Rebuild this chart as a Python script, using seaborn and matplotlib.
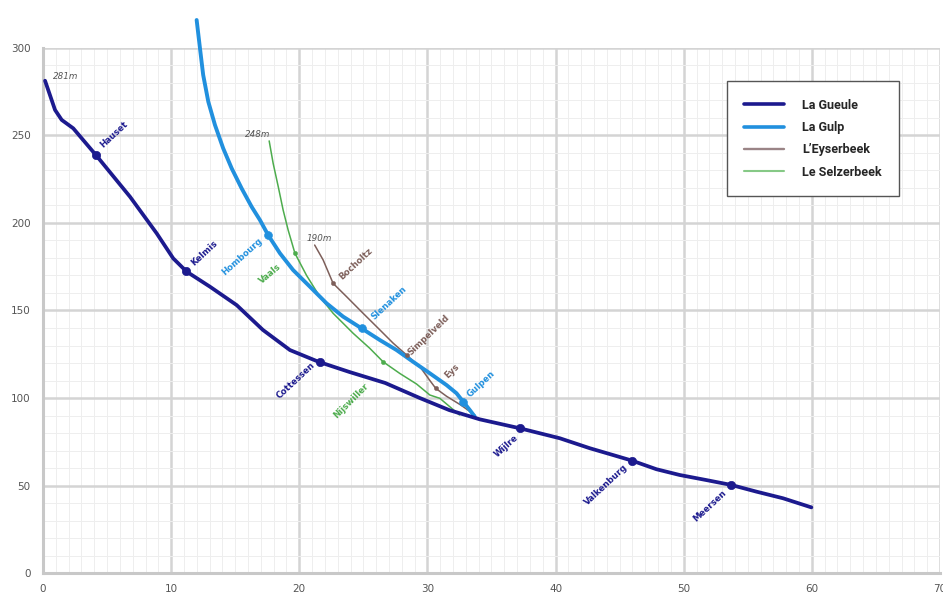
import matplotlib
matplotlib.use("Agg")
import matplotlib.pyplot as plt
from matplotlib.ticker import MultipleLocator
import seaborn as sns
import pandas as pd

# River profiles: distance (km) and altitude (m)
gueule_km = [0.16, 0.94, 1.46, 2.36, 4.19, 6.79, 8.87, 10.16, 11.21, 13.03, 15.11, 17.16,
             19.27, 21.5, 23.9, 26.7, 29.4, 31.7, 34.09, 37.21, 40.33, 42.67, 44.49, 45.97,
             47.87, 49.69, 51.77, 53.72, 55.67, 57.75, 59.96]
gueule_alt = [281.3, 264.6, 258.9, 254.1, 238.3, 215.0, 194.1, 179.8, 172.2, 163.6, 153.1,
              138.9, 127.4, 120.7, 114.9, 108.6, 100.0, 93.1, 87.8, 82.7, 77.0, 71.3, 67.4,
              64.2, 59.3, 56.0, 53.1, 50.3, 46.5, 42.7, 37.5]

gulp_km = [11.99, 12.25, 12.5, 12.9, 13.42, 14.06, 14.72, 15.5, 16.28, 16.93, 17.57, 18.49,
           19.52, 20.83, 22.13, 23.42, 24.86, 26.29, 27.59, 28.88, 30.19, 31.49, 32.27,
           32.79, 33.31, 33.7]
gulp_alt = [316.0, 299.8, 284.6, 269.3, 256.0, 242.7, 231.3, 219.8, 209.3, 201.7, 193.1,
            182.7, 173.1, 163.6, 154.1, 146.5, 139.8, 133.1, 127.4, 120.7, 114.1, 107.4,
            102.7, 97.9, 93.1, 89.3]

eyser_km = [21.2, 21.86, 22.64, 23.69, 24.98, 26.29, 27.33, 28.37, 29.5, 30.19, 30.65,
            31.49, 32.6, 33.7]
eyser_alt = [187.4, 178.9, 165.5, 157.9, 148.4, 138.9, 131.3, 124.6, 117.0, 110.0, 105.5,
             101.0, 96.0, 90.3]

selzer_km = [17.65, 17.96, 18.36, 18.74, 19.13, 19.66, 20.57, 21.6, 22.64, 24.2, 25.5,
             26.54, 27.85, 29.15, 30.19, 30.97, 31.75, 32.5]
selzer_alt = [246.9, 234.1, 220.7, 207.4, 196.0, 182.7, 170.0, 157.9, 148.4, 137.0, 128.4,
              120.7, 114.0, 108.0, 101.7, 99.8, 95.0, 90.3]

# Villages along each river
gueule_places = ["Hauset", "Kelmis", "Cottessen", "Wijlre", "Valkenburg", "Meersen"]
gueule_place_km = [4.15, 11.15, 21.6, 37.21, 45.97, 53.72]
gueule_place_alt = [238.9, 172.6, 120.6, 82.7, 64.2, 50.3]

gulp_places = ["Hombourg", "Slenaken", "Gulpen"]
gulp_place_km = [17.57, 24.86, 32.79]
gulp_place_alt = [193.1, 139.8, 97.9]

eyser_places = ["Bocholtz", "Simpelveld", "Eys"]
eyser_place_km = [22.64, 28.37, 30.65]
eyser_place_alt = [165.5, 124.6, 105.5]

selzer_places = ["Vaals", "Nijswiller"]
selzer_place_km = [19.66, 26.54]
selzer_place_alt = [182.7, 120.7]

sources = ["281m", "316m", "248m", "190m"]
source_km = [gueule_km[0], gulp_km[0], selzer_km[0], eyser_km[0]]
source_alt = [gueule_alt[0], gulp_alt[0], selzer_alt[0], eyser_alt[0]]

c_gueule = "#1c1a8e"
c_gulp = "#2190de"
c_eyser = "#7d5f5a"
c_selzer = "#4dac4d"

sns.set_style("white")
plt.rcParams['font.family'] = ['DejaVu Sans']

fig = plt.figure(figsize=(9.43, 5.94), dpi=100)
ax = fig.add_axes([43 / 943, 21 / 594, 897 / 943, 525 / 594])

gueule = pd.DataFrame({"km": gueule_km, "alt": gueule_alt})
gulp = pd.DataFrame({"km": gulp_km, "alt": gulp_alt})
eyser = pd.DataFrame({"km": eyser_km, "alt": eyser_alt})
selzer = pd.DataFrame({"km": selzer_km, "alt": selzer_alt})

sns.lineplot(data=gueule, x="km", y="alt", sort=False, estimator=None, color=c_gueule,
             lw=2.7, label="La Gueule", ax=ax, clip_on=False, zorder=5,
             solid_joinstyle="round", solid_capstyle="round")
sns.lineplot(data=gulp, x="km", y="alt", sort=False, estimator=None, color=c_gulp,
             lw=2.8, label="La Gulp", ax=ax, clip_on=False, zorder=4,
             solid_joinstyle="round", solid_capstyle="round")
sns.lineplot(data=eyser, x="km", y="alt", sort=False, estimator=None, color=c_eyser,
             lw=1.1, label="L\u2019Eyserbeek", ax=ax, clip_on=False, zorder=3)
sns.lineplot(data=selzer, x="km", y="alt", sort=False, estimator=None, color=c_selzer,
             lw=1.1, label="Le Selzerbeek", ax=ax, clip_on=False, zorder=3)

# village markers and labels
groups = [
    (gueule_places, gueule_place_km, gueule_place_alt, c_gueule, 36),
    (gulp_places, gulp_place_km, gulp_place_alt, c_gulp, 32),
    (eyser_places, eyser_place_km, eyser_place_alt, c_eyser, 10),
    (selzer_places, selzer_place_km, selzer_place_alt, c_selzer, 10),
]
for names, xs, ys, col, msize in groups:
    sns.scatterplot(x=xs, y=ys, color=col, s=msize, marker="o", edgecolor=col,
                    ax=ax, zorder=6, legend=False)

# label offsets in points (dx, dy) and rotation
label_offsets = {
    "Hauset": (12.6, 14.4, 43), "Kelmis": (13.2, 12.7, 43), "Cottessen": (-17.3, -13.7, 43),
    "Wijlre": (-10, -12.6, 42), "Valkenburg": (-18.4, -17.5, 43), "Meersen": (-15.6, -15, 43),
    "Hombourg": (-18.6, -15.6, 42), "Slenaken": (19.8, 18, 43), "Gulpen": (12.6, 12.6, 43),
    "Bocholtz": (16.2, 13.7, 43), "Simpelveld": (16.2, 14.4, 44), "Eys": (11.5, 12.6, 44),
    "Vaals": (-18, -15, 40), "Nijswiller": (-23, -28, 45),
}
for names, xs, ys, col, msize in groups:
    for n, x, y in zip(names, xs, ys):
        dx, dy, rot = label_offsets[n]
        ax.annotate(n, (x, y), xytext=(dx, dy), textcoords="offset points",
                    ha="center", va="center", rotation=rot, fontsize=6.2,
                    fontweight="bold", color=col, zorder=7)

source_pos = {"281m": (5.8, 3.4, "left"), "316m": (7.4, 1.4, "left"),
              "248m": (1, 4.3, "right"), "190m": (3, 4.5, "center")}
for s, x, y in zip(sources, source_km, source_alt):
    dx, dy, ha = source_pos[s]
    ax.annotate(s, (x, y), xytext=(dx, dy), textcoords="offset points",
                ha=ha, va="center", fontsize=6.3, fontstyle="italic", color="#555555")

ax.set_xlim(0, 70)
ax.set_ylim(0, 300)
ax.xaxis.set_major_locator(MultipleLocator(10))
ax.xaxis.set_minor_locator(MultipleLocator(1))
ax.yaxis.set_major_locator(MultipleLocator(50))
ax.yaxis.set_minor_locator(MultipleLocator(10))
ax.grid(which="major", color="#d4d4d4", lw=1.8, zorder=0)
ax.grid(which="minor", color="#eeeeee", lw=0.7, zorder=0)
ax.set_axisbelow(True)
ax.tick_params(which="both", length=0, labelsize=7.5, labelcolor="#555555")
ax.tick_params(axis="x", pad=8)
ax.tick_params(axis="y", pad=9)
for side in ["top", "right"]:
    ax.spines[side].set_visible(False)
for side in ["left", "bottom"]:
    ax.spines[side].set_color("#c8c8c8")
    ax.spines[side].set_linewidth(2.2)
ax.set_xlabel("")
ax.set_ylabel("")

leg = ax.legend(loc="upper left", bbox_to_anchor=(0.7625, 0.937), frameon=True,
                fancybox=False, edgecolor="#555555", framealpha=1,
                prop={"family": "Roboto", "weight": "bold", "size": 9},
                handlelength=3.2, handletextpad=1.4, labelspacing=0.75,
                borderpad=1.4, borderaxespad=0)
leg.get_frame().set_linewidth(1.0)
legend_lw = [2.6, 2.6, 1.7, 1.5]
legend_col = [c_gueule, c_gulp, "#9a8486", "#86c986"]
for h, w, c in zip(leg.get_lines(), legend_lw, legend_col):
    h.set_linewidth(w)
    h.set_color(c)

fig.savefig("out.png", dpi=100)
